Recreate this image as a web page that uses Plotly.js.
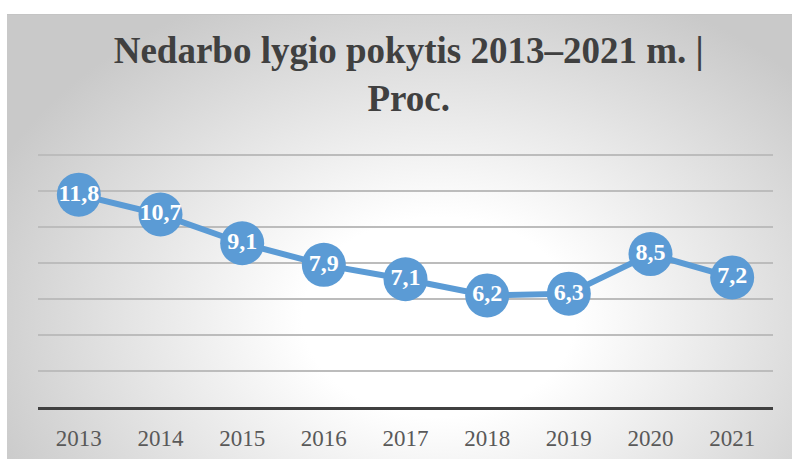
<!DOCTYPE html>
<html>
<head>
<meta charset="utf-8">
<script src="https://cdn.plot.ly/plotly-3.0.1.min.js"></script>
<style>
  html, body { margin: 0; padding: 0; background: #ffffff; }
  #wrap { position: relative; width: 792px; height: 459px; overflow: hidden; }
  #bg { position: absolute; left: 7px; top: 14px; width: 785px; height: 445px;
        background: radial-gradient(ellipse 62% 80% at 55% 68%, #ffffff 28%, #c9c9c9 100%);
        border-top: 1px solid #c4c4c4; box-sizing: border-box; }
  #chart { position: absolute; left: 0; top: 0; width: 792px; height: 459px; }
</style>
</head>
<body>
<div id="wrap">
  <div id="bg"></div>
  <div id="chart"></div>
</div>
<script>
const years = ['2013','2014','2015','2016','2017','2018','2019','2020','2021'];
const rates = [11.8, 10.7, 9.1, 7.9, 7.1, 6.2, 6.3, 8.5, 7.2];
const yTicks = [0, 2, 4, 6, 8, 10, 12, 14];

const serif = '"Liberation Serif", "Times New Roman", serif';

const trace = {
  type: 'scatter',
  mode: 'lines+markers+text',
  x: years,
  y: rates,
  texttemplate: '%{y:.1f}',
  textposition: 'middle center',
  textfont: { family: serif, size: 24, color: '#ffffff', weight: 'bold' },
  line: { color: '#5B9BD5', width: 6 },
  marker: { color: '#5B9BD5', size: 44 },
  cliponaxis: false,
  hoverinfo: 'skip'
};

const layout = {
  width: 792, height: 459,
  paper_bgcolor: 'rgba(0,0,0,0)',
  plot_bgcolor: 'rgba(0,0,0,0)',
  separators: ',.',
  showlegend: false,
  margin: { l: 38, r: 19, t: 154, b: 52 },
  title: {
    text: '<b>Nedarbo lygio pokytis 2013–2021 m. |<br>Proc.</b>',
    font: { family: serif, size: 37, color: '#404040' },
    x: 0.516, xref: 'container', xanchor: 'center',
    y: 0.862, yref: 'container', yanchor: 'top'
  },
  xaxis: {
    type: 'category',
    range: [-0.5, 8.5],
    showgrid: false,
    showline: true, linecolor: '#404040', linewidth: 3,
    ticks: '',
    ticklabelstandoff: 8,
    tickfont: { family: serif, size: 23, color: '#595959' },
    fixedrange: true
  },
  yaxis: {
    range: [0, 14.06],
    tickvals: yTicks,
    showticklabels: false,
    showgrid: true, gridcolor: '#bcbcbc', gridwidth: 1.5,
    zeroline: false,
    showline: false,
    fixedrange: true
  }
};

Plotly.newPlot('chart', [trace], layout, { displayModeBar: false, staticPlot: true });
</script>
</body>
</html>
